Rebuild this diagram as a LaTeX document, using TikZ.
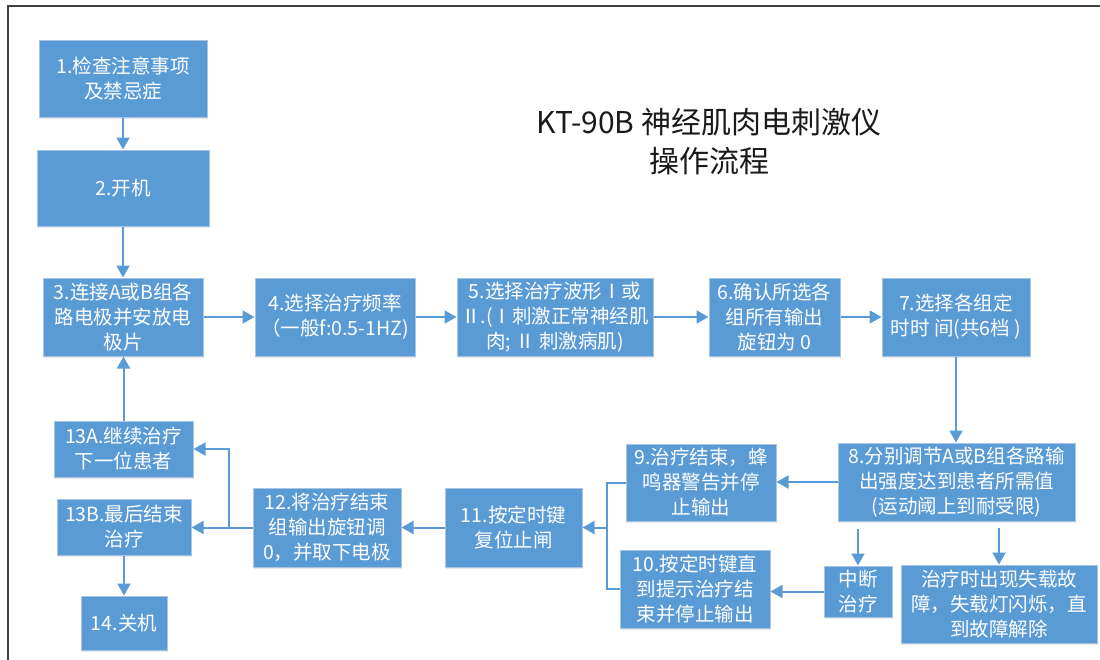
\documentclass[tikz,border=0pt]{standalone}
\usepackage{fontspec}
\setmainfont{Noto Sans CJK SC}
\usetikzlibrary{arrows.meta,shadows,calc}
\definecolor{boxblue}{HTML}{5B9BD5}
\definecolor{boxedge}{HTML}{A9C5E6}
\definecolor{arrblue}{HTML}{5B9BD5}
\definecolor{framegray}{HTML}{404040}
\definecolor{titlecol}{HTML}{1A1A1A}
\tikzset{
  stepbox/.style={rectangle, fill=boxblue, draw=boxedge, line width=1pt,
    text=white, align=center, inner sep=0pt,
    font=\fontsize{19.5}{25}\selectfont,
    drop shadow={opacity=0.18, shadow xshift=1pt, shadow yshift=-2pt}},
  link/.style={draw=arrblue, line width=2pt},
  arr/.style={link, -{Triangle[length=12pt,width=13pt]}},
}
\begin{document}
\begin{tikzpicture}[x=1pt,y=-1pt]
\useasboundingbox (0,0) rectangle (1100,659);
% frame
\coordinate (fa) at (8,662);
\coordinate (fb) at (8,6);
\coordinate (fc) at (1103,6);
\draw[framegray, line width=2pt] (fa) -- (fb) -- (fc);
% title
\node[align=center, text=titlecol, font=\fontsize{30}{39}\selectfont] (title) at (709,142) {KT-90B 神经肌肉电刺激仪\\操作流程};
% boxes
\node[stepbox, minimum width=168pt, minimum height=77pt] (b1) at (123,78.5) {1.检查注意事项\\及禁忌症};
\node[stepbox, minimum width=172pt, minimum height=76pt] (b2) at (123,188) {2.开机};
\node[stepbox, minimum width=160pt, minimum height=78pt] (b3) at (123,317) {3.连接A或B组各\\路电极并安放电\\极片};
\node[stepbox, minimum width=160pt, minimum height=78pt] (b4) at (335,317) {4.选择治疗频率\\（一般f:0.5-1HZ)};
\node[stepbox, minimum width=196pt, minimum height=78pt] (b5) at (555,317) {5.选择治疗波形Ⅰ或\\Ⅱ.(Ⅰ刺激正常神经肌\\肉; Ⅱ 刺激病肌)};
\node[stepbox, minimum width=131pt, minimum height=78pt] (b6) at (774.5,317) {6.确认所选各\\组所有输出\\旋钮为 0};
\node[stepbox, minimum width=148pt, minimum height=78pt] (b7) at (956,317) {7.选择各组定\\时时 间(共6档 )};
\node[stepbox, minimum width=237pt, minimum height=78pt] (b8) at (956.5,482) {8.分别调节A或B组各路输\\出强度达到患者所需值\\(运动阈上到耐受限)};
\node[stepbox, minimum width=150pt, minimum height=77pt] (b9) at (701,482.5) {9.治疗结束，蜂\\鸣器警告并停\\止输出};
\node[stepbox, minimum width=150pt, minimum height=78pt] (b10) at (695,589) {10.按定时键直\\到提示治疗结\\束并停止输出};
\node[stepbox, minimum width=68pt, minimum height=51pt] (bint) at (858,591.5) {中断\\治疗};
\node[stepbox, minimum width=196pt, minimum height=78pt] (bfault) at (999,604) {治疗时出现失载故\\障，失载灯闪烁，直\\到故障解除};
\node[stepbox, minimum width=137pt, minimum height=79pt] (b11) at (513.5,527.5) {11.按定时键\\复位止闸};
\node[stepbox, minimum width=148pt, minimum height=79pt] (b12) at (327,527.5) {12.将治疗结束\\组输出旋钮调\\0，并取下电极};
\node[stepbox, minimum width=139pt, minimum height=56pt] (b13a) at (123.5,449) {13A.继续治疗\\下一位患者};
\node[stepbox, minimum width=134pt, minimum height=56pt] (b13b) at (124,527) {13B.最后结束\\治疗};
\node[stepbox, minimum width=86pt, minimum height=54pt] (b14) at (124,623) {14.关机};
% connectors
\draw[arr] (b1) -- (b2);
\draw[arr] (b2) -- (b3);
\draw[arr] (b3) -- (b4);
\draw[arr] (b4) -- (b5);
\draw[arr] (b5) -- (b6);
\draw[arr] (b6) -- (b7);
\draw[arr] (b7.south) -- (b7.south |- b8.north);
\draw[arr] (b8.west) -- (b8.west -| b9.east);
\coordinate (s1) at ($(b8.south -| bint.north)+(0,7)$);
\coordinate (s2) at ($(b8.south -| bfault.north)+(0,6)$);
\draw[arr] (s1) -- (bint.north);
\draw[arr] (s2) -- (s2 |- bfault.north);
\draw[arr] (bint.west) -- (bint.west -| b10.east);
\coordinate (jx) at (607,527.5);
\draw[link] (b9.west) -- (b9.west -| jx) -- (b10.west -| jx) -- (b10.west);
\draw[arr] (jx) -- (jx -| b11.east);
\draw[arr] (b11) -- (b12);
\draw[arr] (b12.west) -- (b12.west -| b13b.east);
\coordinate (j2) at (229,527.5);
\draw[arr] (j2) |- (b13a.east);
\draw[arr] (b13b) -- (b14);
\draw[arr] (b13a.north) -- (b13a.north |- b3.south);
\end{tikzpicture}
\end{document}
